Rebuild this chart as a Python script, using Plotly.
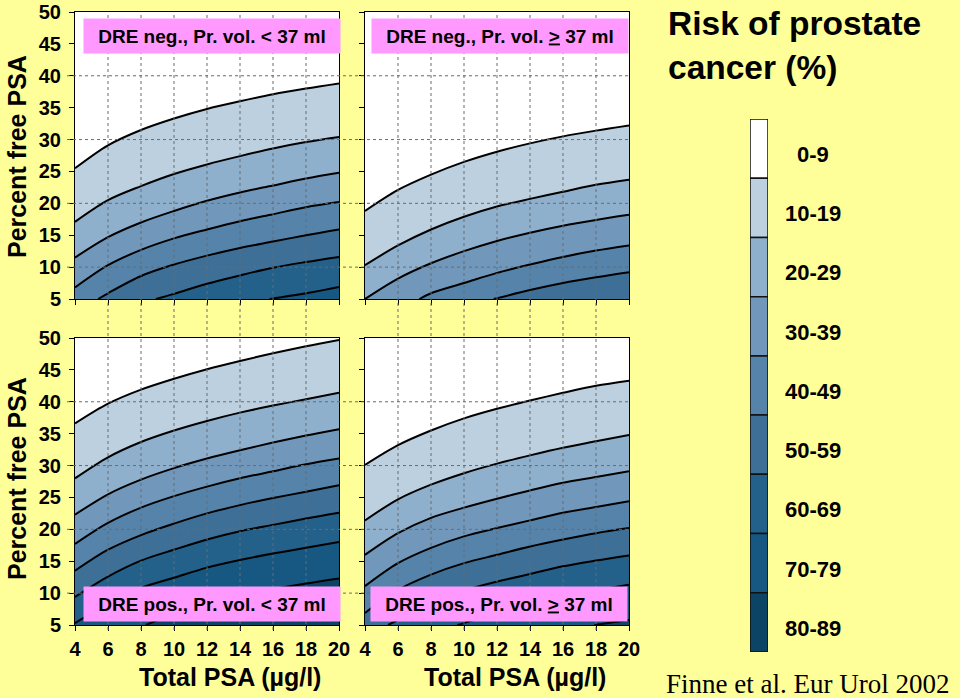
import plotly.graph_objects as go

# ---------------- data ----------------
total_psa = [4, 6, 8, 10, 12, 14, 16, 18, 20]
free_psa_ticks = [5, 10, 15, 20, 25, 30, 35, 40, 45, 50]
risk_levels = [10, 20, 30, 40, 50, 60, 70, 80]
band_labels = ["0-9", "10-19", "20-29", "30-39", "40-49", "50-59", "60-69", "70-79", "80-89"]
panel_titles = [
    "DRE neg., Pr. vol. &lt; 37 ml",
    "DRE neg., Pr. vol. <u>&gt;</u> 37 ml",
    "DRE pos., Pr. vol. &lt; 37 ml",
    "DRE pos., Pr. vol. <u>&gt;</u> 37 ml",
]

# Panel A: DRE neg., volume < 37 ml  (iso-risk boundaries, % free PSA)
a10 = [25.5, 29.1, 31.5, 33.3, 34.8, 36.0, 37.1, 38.0, 38.8]
a20 = [17.1, 20.5, 22.7, 24.6, 26.1, 27.4, 28.6, 29.6, 30.4]
a30 = [11.5, 14.7, 17.0, 18.8, 20.4, 21.7, 22.8, 23.9, 24.8]
a40 = [6.8, 10.3, 12.7, 14.5, 15.9, 17.2, 18.3, 19.4, 20.2]
a50_x = [5.4, 6, 8, 10, 12, 14, 16, 18, 20]
a50 = [5.0, 5.9, 8.6, 10.4, 11.8, 13.0, 14.0, 15.0, 15.9]
a60_x = [8.9, 10, 12, 14, 16, 18, 20]
a60 = [5.0, 5.8, 7.4, 8.7, 9.9, 10.8, 11.6]
a70_x = [15.8, 18, 20]
a70 = [5.0, 5.9, 6.9]

# Panel B: DRE neg., volume >= 37 ml
b10 = [18.8, 22.1, 24.5, 26.5, 28.1, 29.4, 30.5, 31.4, 32.2]
b20 = [10.3, 13.4, 15.9, 17.9, 19.5, 20.7, 21.8, 22.9, 23.7]
b30 = [5.0, 8.2, 10.6, 12.5, 14.1, 15.4, 16.5, 17.4, 18.2]
b40_x = [7.3, 8, 10, 12, 14, 16, 18, 20]
b40 = [5.0, 5.9, 7.5, 9.1, 10.4, 11.6, 12.6, 13.4]
b50_x = [11.8, 14, 16, 18, 20]
b50 = [5.0, 6.4, 7.5, 8.4, 9.2]

# Panel C: DRE pos., volume < 37 ml
c10 = [36.6, 39.7, 41.9, 43.6, 45.1, 46.4, 47.6, 48.7, 49.7]
c20 = [28.0, 31.3, 33.7, 35.5, 37.0, 38.3, 39.4, 40.4, 41.4]
c30 = [22.3, 25.5, 27.8, 29.6, 31.1, 32.4, 33.6, 34.7, 35.7]
c40 = [17.7, 21.0, 23.4, 25.2, 26.7, 28.0, 29.1, 30.2, 31.1]
c50 = [13.5, 16.8, 19.1, 20.9, 22.5, 23.8, 24.9, 25.9, 26.9]
c60 = [9.4, 12.6, 15.1, 16.8, 18.4, 19.7, 20.7, 21.7, 22.6]
c70 = [5.3, 8.3, 10.8, 12.4, 14.0, 15.2, 16.2, 17.1, 18.0]
c80_x = [8.3, 10, 12, 14, 16, 18, 20]
c80 = [5.0, 6.8, 8.4, 9.6, 10.6, 11.5, 12.3]

# Panel D: DRE pos., volume >= 37 ml
d10 = [30.1, 33.2, 35.5, 37.4, 38.9, 40.2, 41.4, 42.5, 43.3]
d20 = [21.4, 24.7, 27.0, 28.8, 30.3, 31.6, 32.8, 33.8, 34.8]
d30 = [16.0, 19.4, 21.8, 23.4, 24.8, 26.1, 27.3, 28.2, 29.1]
d40 = [11.1, 14.7, 17.1, 18.9, 20.2, 21.4, 22.6, 23.5, 24.4]
d50 = [6.9, 10.5, 12.9, 14.7, 16.0, 17.3, 18.4, 19.4, 20.2]
d60_x = [5.4, 6, 8, 10, 12, 14, 16, 18, 20]
d60 = [5.0, 5.8, 8.5, 10.4, 11.8, 13.0, 14.2, 15.1, 15.9]
d70_x = [9.6, 10, 12, 14, 16, 18, 20]
d70 = [5.0, 5.3, 7.0, 8.3, 9.4, 10.4, 11.3]
d80_x = [17.9, 20]
d80 = [5.0, 5.8]

# ---------------- style ----------------
band_colors = ["#FFFFFF", "#BCD0E0", "#8FB0CC", "#7198BB", "#5683AA",
               "#3E6F96", "#23608A", "#165882", "#0C4466"]
BG = "#FFFF99"
FONT = "Arial, Liberation Sans, sans-serif"

panels = [
    [(total_psa, a10), (total_psa, a20), (total_psa, a30), (total_psa, a40),
     (a50_x, a50), (a60_x, a60), (a70_x, a70)],
    [(total_psa, b10), (total_psa, b20), (total_psa, b30), (b40_x, b40), (b50_x, b50)],
    [(total_psa, c10), (total_psa, c20), (total_psa, c30), (total_psa, c40),
     (total_psa, c50), (total_psa, c60), (total_psa, c70), (c80_x, c80)],
    [(total_psa, d10), (total_psa, d20), (total_psa, d30), (total_psa, d40),
     (total_psa, d50), (d60_x, d60), (d70_x, d70), (d80_x, d80)],
]

W, H = 960, 698
def px(v):
    return v / W
def py(v):
    return 1 - v / H

col_dom = [[px(75), px(339)], [px(365), px(629)]]
row_dom = [[py(299), py(12)], [py(625), py(338)]]

fig = go.Figure()

axis_ids = ["", "2", "3", "4"]
for p, curves in enumerate(panels):
    xa = "x" + axis_ids[p]
    ya = "y" + axis_ids[p]
    for k, (xs, ys) in enumerate(curves):
        fig.add_trace(go.Scatter(
            x=xs, y=ys, xaxis=xa, yaxis=ya, mode="lines",
            line=dict(width=0, shape="spline", smoothing=0.9),
            fill="tozeroy", fillcolor=band_colors[k + 1],
            hoverinfo="skip", showlegend=False))
    for k, (xs, ys) in enumerate(curves):
        fig.add_trace(go.Scatter(
            x=xs, y=ys, xaxis=xa, yaxis=ya, mode="lines",
            line=dict(width=2, color="black", shape="spline", smoothing=0.9),
            name="%d%%" % risk_levels[k], showlegend=False))

fig.add_trace(go.Bar(
    x=[0] * len(band_labels), y=[1] * len(band_labels),
    base=list(range(len(band_labels))), width=1,
    marker=dict(color=band_colors, line=dict(color="#111111", width=1.5)),
    xaxis="x5", yaxis="y5", showlegend=False, hoverinfo="skip"))

tickfont = dict(family=FONT, size=20, color="black", weight="bold")
layout = dict(
    width=W, height=H, autosize=False,
    margin=dict(l=0, r=0, t=0, b=0, pad=0, autoexpand=False),
    paper_bgcolor=BG, plot_bgcolor="white",
    showlegend=False,
)
for p in range(4):
    r, c = p // 2, p % 2
    xa = "xaxis" + axis_ids[p]
    ya = "yaxis" + axis_ids[p]
    layout[xa] = dict(
        domain=col_dom[c], range=[4, 20], tickvals=total_psa,
        ticks="outside", ticklen=5, tickcolor="black",
        showticklabels=(r == 1), tickfont=tickfont, ticklabelstandoff=1,
        showgrid=False, zeroline=False, showline=True, linecolor="black",
        linewidth=1, mirror=True, fixedrange=True, automargin=False,
        anchor="y" + axis_ids[p])
    layout[ya] = dict(
        domain=row_dom[r], range=[5, 50], tickvals=free_psa_ticks,
        ticks="outside", ticklen=5, tickcolor="black",
        showticklabels=(c == 0), tickfont=tickfont, ticklabelstandoff=4,
        showgrid=False, zeroline=False, showline=True, linecolor="black",
        linewidth=1, mirror=True, fixedrange=True, automargin=False,
        anchor="x" + axis_ids[p])
layout["xaxis5"] = dict(domain=[px(750), px(768)], range=[-0.5, 0.5],
                        visible=False, fixedrange=True, anchor="y5", automargin=False)
layout["yaxis5"] = dict(domain=[py(652), py(119)], range=[len(band_labels), 0],
                        visible=False, fixedrange=True, anchor="x5", automargin=False)
fig.update_layout(**layout)

grid = dict(color="#6a6a6a", width=1, dash="dot")
shapes = []
for c, xr in enumerate(["x", "x2"]):
    for v in total_psa[1:-1]:
        shapes.append(dict(type="line", xref=xr, yref="paper", x0=v, x1=v,
                           y0=py(630), y1=py(12), line=grid, layer="above"))
for r, yr in enumerate(["y", "y3"]):
    for v in [10, 20, 30, 40]:
        shapes.append(dict(type="line", xref="paper", yref=yr, y0=v, y1=v,
                           x0=px(67), x1=px(629), line=grid, layer="above"))
fig.update_layout(shapes=shapes)

ann = []
box_pos = [(83, 18), (371, 18), (83, 586), (370, 586)]
for p, (bx, by) in enumerate(box_pos):
    ann.append(dict(text=panel_titles[p], xref="paper", yref="paper",
                    x=px(bx), y=py(by), xanchor="left", yanchor="top",
                    width=256, height=34, borderpad=0, bgcolor="#FF99FF",
                    showarrow=False, align="center", valign="middle",
                    font=dict(family=FONT, size=19, color="black", weight="bold")))
for yc in [157, 479]:
    ann.append(dict(text="Percent free PSA", xref="paper", yref="paper",
                    x=px(17), y=py(yc), xanchor="center", yanchor="middle",
                    textangle=-90, showarrow=False,
                    font=dict(family=FONT, size=25, color="black", weight="bold")))
for xc in [230, 515]:
    ann.append(dict(text="Total PSA (µg/l)", xref="paper", yref="paper",
                    x=px(xc), y=py(677), xanchor="center", yanchor="middle",
                    showarrow=False,
                    font=dict(family=FONT, size=25, color="black", weight="bold")))
ann.append(dict(text="Risk of prostate<br>cancer (%)", xref="paper", yref="paper",
                x=px(666), y=py(3), xanchor="left", yanchor="top", align="left",
                showarrow=False,
                font=dict(family=FONT, size=33.5, color="black", weight="bold")))
for i, lab in enumerate(band_labels):
    ann.append(dict(text=lab, xref="paper", yref="y5", x=px(813), y=i + 0.6,
                    xanchor="center", yanchor="middle", showarrow=False,
                    font=dict(family=FONT, size=22, color="black", weight="bold")))
ann.append(dict(text="Finne et al. Eur Urol 2002", xref="paper", yref="paper",
                x=px(664), y=py(684), xanchor="left", yanchor="middle",
                showarrow=False,
                font=dict(family="Times New Roman, Liberation Serif, serif",
                          size=27, color="black")))
fig.update_layout(annotations=ann)

fig.write_html(
    "out.html",
    config={"displayModeBar": False, "staticPlot": True},
    post_script="document.body.style.margin='0';"
                "document.body.style.background='%s';" % BG)
